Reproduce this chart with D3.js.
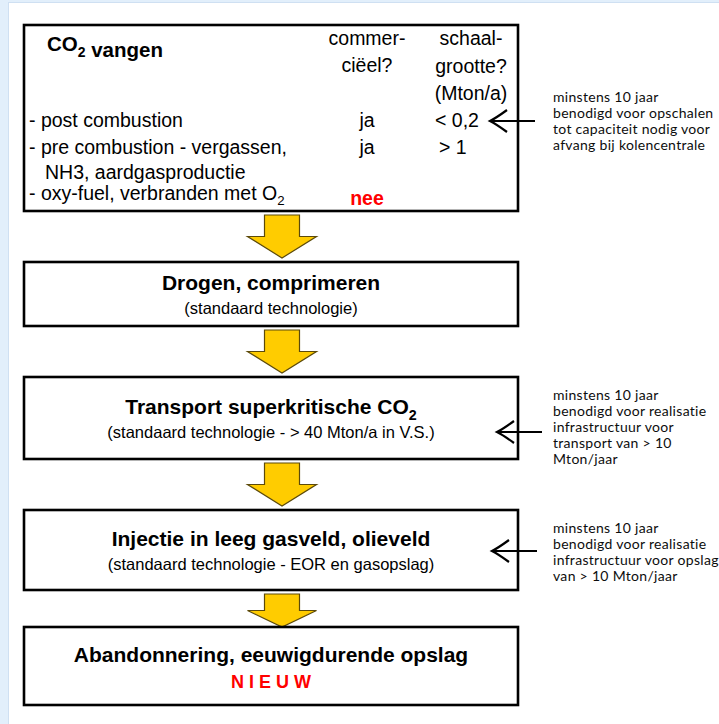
<!DOCTYPE html>
<html><head><meta charset="utf-8">
<script src="https://cdn.jsdelivr.net/npm/d3@7"></script>
<style>
html,body{margin:0;padding:0;background:#fff;}
svg{display:block;}
</style></head>
<body>
<script>
// ---------- data ----------
const stepTitles = ["CO₂ vangen", "Drogen, comprimeren", "Transport superkritische CO₂", "Injectie in leeg gasveld, olieveld", "Abandonnering, eeuwigdurende opslag"];
const stepSubtitles = ["", "(standaard technologie)", "(standaard technologie - > 40 Mton/a in V.S.)", "(standaard technologie - EOR en gasopslag)", "N I E U W"];
const captureHeaders1 = ["commer-", "ciëel?"];
const captureHeaders2 = ["schaal-", "grootte?", "(Mton/a)"];
const captureMethods = ["- post combustion", "- pre combustion - vergassen,", "  NH3, aardgasproductie", "- oxy-fuel, verbranden met O₂"];
const captureCommercial = ["ja", "ja", "", "nee"];
const captureScale = ["< 0,2", "> 1", "", ""];
const notes = [
  {step: 0, lines: ["minstens 10 jaar", "benodigd voor opschalen", "tot capaciteit nodig voor", "afvang bij kolencentrale"]},
  {step: 2, lines: ["minstens 10 jaar", "benodigd voor realisatie", "infrastructuur voor", "transport van > 10", "Mton/jaar"]},
  {step: 3, lines: ["minstens 10 jaar", "benodigd voor realisatie", "infrastructuur voor opslag", "van > 10 Mton/jaar"]}
];

// ---------- layout ----------
const W = 719, H = 724;
const boxTop = [25, 262, 377, 510, 627];
const boxBottom = [211, 326, 459, 590, 705];
const boxX0 = 24, boxX1 = 518;
const cx = (boxX0 + boxX1) / 2;

const svg = d3.select("body").append("svg").attr("width", W).attr("height", H);

// page frame (light blue edges)
svg.append("rect").attr("x", 0).attr("y", 0).attr("width", W).attr("height", H).attr("fill", "#ffffff");
svg.append("rect").attr("x", 0).attr("y", 0).attr("width", 8).attr("height", H).attr("fill", "#e2effb");
svg.append("rect").attr("x", 0).attr("y", 0).attr("width", W).attr("height", 2).attr("fill", "#e2effb");
svg.append("line").attr("x1", 8.5).attr("x2", 8.5).attr("y1", 2).attr("y2", H).attr("stroke", "#cfe0f2").attr("stroke-width", 1);
svg.append("line").attr("x1", 8).attr("x2", W).attr("y1", 2.5).attr("y2", 2.5).attr("stroke", "#cfe0f2").attr("stroke-width", 1);

// step index -> vertical position
const idx = d3.range(stepTitles.length);
const yTop = d3.scaleOrdinal().domain(idx).range(boxTop);
const yBot = d3.scaleOrdinal().domain(idx).range(boxBottom);

// yellow arrows between boxes
const arrowG = svg.append("g");
const ax = cx + 11;
idx.slice(0, -1).forEach(i => {
  const y0 = yBot(i) + 4, y1 = yTop(i + 1) - (i === 3 ? 0 : 4);
  const len = y1 - y0;
  const yh = y0 + len * 0.5;
  const sw = 17.5, hw = 34.5;
  const p = d3.path();
  p.moveTo(ax - sw, y0);
  p.lineTo(ax + sw, y0);
  p.lineTo(ax + sw, yh);
  p.lineTo(ax + hw, yh);
  p.lineTo(ax, y1);
  p.lineTo(ax - hw, yh);
  p.lineTo(ax - sw, yh);
  p.closePath();
  arrowG.append("path").attr("d", p.toString())
    .attr("fill", "#ffcc00").attr("stroke", "#5c4a0a").attr("stroke-width", 1.2).attr("stroke-linejoin", "miter");
});

// boxes
svg.append("g").selectAll("rect").data(idx).join("rect")
  .attr("x", boxX0).attr("y", d => yTop(d))
  .attr("width", boxX1 - boxX0).attr("height", d => yBot(d) - yTop(d))
  .attr("fill", "#fff").attr("stroke", "#000").attr("stroke-width", 2.6);

const FONT = "'Liberation Sans', Arial, Helvetica, sans-serif";

function addText(sel, str, opts) {
  const t = sel.append("text").attr("x", opts.x).attr("y", opts.y)
    .attr("font-family", FONT).attr("font-size", opts.size)
    .attr("font-weight", opts.bold ? "bold" : "normal")
    .attr("fill", opts.fill || "#000")
    .attr("text-anchor", opts.anchor || "start");
  if (opts.ls) t.attr("letter-spacing", opts.ls);
  const parts = str.split("₂");
  parts.forEach((part, k) => {
    t.append("tspan").text(part);
    if (k < parts.length - 1) {
      t.append("tspan").attr("font-size", opts.size * 0.68).attr("dy", opts.size * 0.28).text("2");
      t.append("tspan").attr("dy", -opts.size * 0.28).text("");
    }
  });
  return t;
}

// step 0: capture table
const g0 = svg.append("g");
addText(g0, stepTitles[0], {x: 47, y: 51, size: 20.5, bold: true});
const col1 = 367, col2 = 471;
captureHeaders1.forEach((s, i) => addText(g0, s, {x: col1, y: 45 + i * 27, size: 19.5, anchor: "middle"}));
captureHeaders2.forEach((s, i) => addText(g0, s, {x: col2, y: 45 + i * 27.5, size: 19.5, anchor: "middle"}));
const rowY = [127, 154, 179, 200];
captureMethods.forEach((s, i) => {
  const lead = s.startsWith("  ");
  addText(g0, s.trim(), {x: lead ? 45 : 29, y: rowY[i], size: 19.5});
});
captureCommercial.forEach((s, i) => {
  if (!s) return;
  const red = s === "nee";
  addText(g0, s, {x: col1, y: red ? 205 : rowY[i], size: 19.5, anchor: "middle", bold: red, fill: red ? "#ff0000" : "#000"});
});
captureScale.forEach((s, i) => { if (s) addText(g0, s, {x: i === 0 ? 435 : 439, y: rowY[i], size: 19.5}); });

// steps 1-4 titles
idx.slice(1).forEach(i => {
  const mid = (yTop(i) + yBot(i)) / 2;
  const isNew = stepSubtitles[i] === "N I E U W";
  addText(svg, stepTitles[i], {x: cx, y: mid - 4, size: 21, bold: true, anchor: "middle"});
  if (isNew) addText(svg, stepSubtitles[i], {x: cx, y: mid + 22, size: 18, bold: true, anchor: "middle", fill: "#ff0000"});
  else addText(svg, stepSubtitles[i], {x: cx, y: mid + 20, size: 16.5, anchor: "middle"});
});

// side notes with black arrows
const noteArrowY = {0: 121, 2: 432, 3: 551};
const noteTip = {0: 490, 2: 497, 3: 492};
const noteFirstBaseline = {0: 102, 2: 400, 3: 533};
notes.forEach(n => {
  const y = noteArrowY[n.step], tx = noteTip[n.step];
  const ng = svg.append("g");
  ng.append("line").attr("x1", tx + 1).attr("x2", tx + 45).attr("y1", y).attr("y2", y)
    .attr("stroke", "#000").attr("stroke-width", 2.2);
  ng.append("path").attr("d", `M${tx + 17},${y - 11} Q${tx + 6},${y - 3} ${tx},${y} Q${tx + 6},${y + 3} ${tx + 17},${y + 11}`)
    .attr("fill", "none").attr("stroke", "#000").attr("stroke-width", 2.2);
  n.lines.forEach((l, k) => {
    ng.append("text").attr("x", 553).attr("y", noteFirstBaseline[n.step] + k * 16)
      .attr("font-family", "Lato, 'Open Sans', sans-serif").attr("font-size", 14)
      .attr("fill", "#0d0d0d").attr("letter-spacing", 0.3).text(l);
  });
});
</script>
</body></html>
